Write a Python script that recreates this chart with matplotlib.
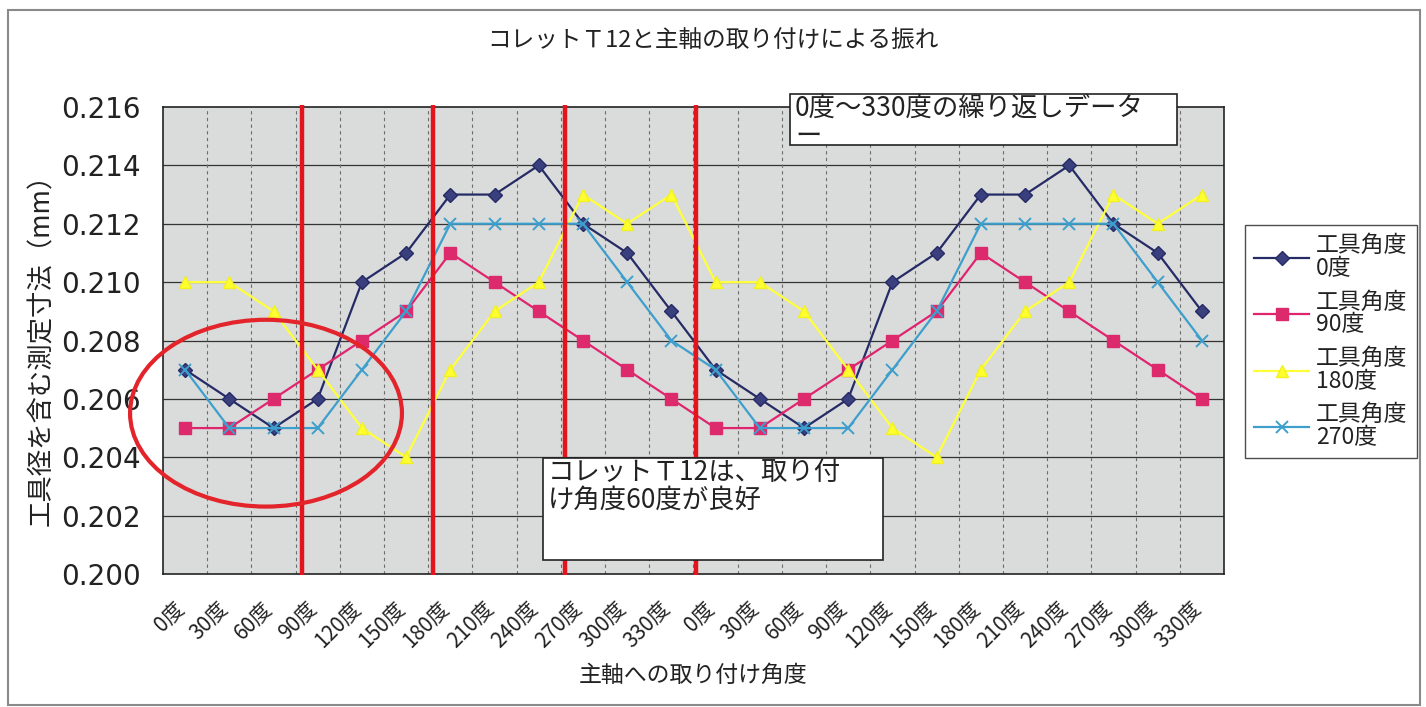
import matplotlib
matplotlib.use("Agg")
import matplotlib.pyplot as plt
import matplotlib.transforms as mtransforms
from matplotlib.patches import Rectangle, Ellipse

plt.rcParams['font.family'] = ['Noto Sans CJK JP', 'DejaVu Sans']

# ---------------- data ----------------
angles = ["0度", "30度", "60度", "90度", "120度", "150度", "180度",
          "210度", "240度", "270度", "300度", "330度"]
categories = angles + angles

tool_0 = [0.207, 0.206, 0.205, 0.206, 0.210, 0.211, 0.213, 0.213, 0.214, 0.212, 0.211, 0.209,
          0.207, 0.206, 0.205, 0.206, 0.210, 0.211, 0.213, 0.213, 0.214, 0.212, 0.211, 0.209]
tool_90 = [0.205, 0.205, 0.206, 0.207, 0.208, 0.209, 0.211, 0.210, 0.209, 0.208, 0.207, 0.206,
           0.205, 0.205, 0.206, 0.207, 0.208, 0.209, 0.211, 0.210, 0.209, 0.208, 0.207, 0.206]
tool_180 = [0.210, 0.210, 0.209, 0.207, 0.205, 0.204, 0.207, 0.209, 0.210, 0.213, 0.212, 0.213,
            0.210, 0.210, 0.209, 0.207, 0.205, 0.204, 0.207, 0.209, 0.210, 0.213, 0.212, 0.213]
tool_270 = [0.207, 0.205, 0.205, 0.205, 0.207, 0.209, 0.212, 0.212, 0.212, 0.212, 0.210, 0.208,
            0.207, 0.205, 0.205, 0.205, 0.207, 0.209, 0.212, 0.212, 0.212, 0.212, 0.210, 0.208]
series_labels = ["工具角度\n0度", "工具角度\n90度", "工具角度\n180度", "工具角度\n270度"]
y_ticks = [0.200, 0.202, 0.204, 0.206, 0.208, 0.210, 0.212, 0.214, 0.216]

title = "コレットＴ12と主軸の取り付けによる振れ"
xlabel = "主軸への取り付け角度"
ylabel = "工具径を含む測定寸法（mm）"
note1 = "0度～330度の繰り返しデータ\nー"
note2 = "コレットＴ12は、取り付\nけ角度60度が良好"

# ---------------- figure ----------------
W, H = 1426, 707
fig = plt.figure(figsize=(W / 100, H / 100), dpi=100)
fig.patch.set_facecolor('white')

def fx(px):
    return px / W

def fy(py):
    return 1 - py / H

# outer frame
fig.add_artist(Rectangle((fx(8), fy(705)), fx(1420) - fx(8), fy(10) - fy(705),
                         transform=fig.transFigure, fill=False, edgecolor='#8a8a8a', lw=1.5))

ax = fig.add_axes([fx(163), fy(574), fx(1224) - fx(163), fy(107) - fy(574)])
ax.set_facecolor('#d9dcdb')
x = list(range(len(categories)))

styles = [
    dict(color='#262b66', marker='D', ms=7, mfc='#3a3f7e', mec='#262b66'),
    dict(color='#e0246e', marker='s', ms=8, mfc='#dc2a6c', mec='#dc2a6c'),
    dict(color='#ffff3a', marker='^', ms=9, mfc='#ffff30', mec='#f2f020'),
    dict(color='#3e9fcc', marker='x', ms=9, mew=1.4, mfc='#3e9fcc', mec='#3e9fcc'),
]
for vals, lab, st in zip([tool_0, tool_90, tool_180, tool_270], series_labels, styles):
    ax.plot(x, vals, lw=1.6, label=lab, zorder=3, **st)

ax.set_xlim(-0.5, len(categories) - 0.5)
ax.set_ylim(0.200, 0.216)
ax.set_yticks(y_ticks)
ax.set_yticklabels([f"{v:.3f}" for v in y_ticks], family='DejaVu Sans', fontsize=20, color='#222')
ax.set_xticks(x)
ax.set_xticklabels(categories, rotation=45, ha='right', va='top', rotation_mode='anchor',
                   fontsize=15, color='#222')
ax.tick_params(axis='y', length=0, pad=16)
ax.tick_params(axis='x', length=0, pad=17)
shift = mtransforms.ScaledTranslation(-12 / 100, 0, fig.dpi_scale_trans)
for lbl in ax.get_xticklabels():
    lbl.set_transform(lbl.get_transform() + shift)

# grid
for v in y_ticks[1:-1]:
    ax.axhline(v, color='#333333', lw=0.9, zorder=1)
for b in range(1, len(categories)):
    ax.axvline(b - 0.5, color='#6d6d6d', lw=0.8, ls=(0, (3, 3)), zorder=1)
for s in ax.spines.values():
    s.set_color('#222')
    s.set_linewidth(1.2)

# red vertical lines and ellipse
for xp in [2.64, 5.61, 8.6, 11.56]:
    ax.plot([xp, xp], [0.19995, 0.21608], color='#e4141c', lw=3.2, zorder=4, clip_on=False,
            solid_capstyle='butt')
ax.add_patch(Ellipse((1.83, 0.20551), 6.15, 0.0064, fill=False, edgecolor='#e3242b', lw=3,
                     zorder=5, clip_on=False))

# text boxes
def textbox(x0, y0, x1, y1, text, fs):
    fig.add_artist(Rectangle((fx(x0), fy(y1)), fx(x1) - fx(x0), fy(y0) - fy(y1),
                             transform=fig.transFigure, facecolor='white', edgecolor='#222',
                             lw=1.2, zorder=10))
    return fig.text(fx(x0 + 5), fy(y0 + 1), text, ha='left', va='top', fontsize=fs,
                    color='#222', zorder=11, linespacing=1.05)

textbox(790, 94, 1177, 145, note1, 19)
textbox(543, 458, 883, 560, note2, 19)

# titles
fig.text(fx(713), fy(40), title, ha='center', va='center', fontsize=17, color='#222')
fig.text(fx(42), fy(343), ylabel, ha='center', va='center', rotation=90, fontsize=19, color='#222')
fig.text(fx(693), fy(675), xlabel, ha='center', va='center', fontsize=16.5, color='#222')

# legend
leg = fig.legend(loc='upper left', bbox_to_anchor=(fx(1245), fy(225)),
                 bbox_transform=fig.transFigure, fontsize=16.5, frameon=True, fancybox=False,
                 edgecolor='#222', handlelength=2.4, labelspacing=0.45, borderpad=0.4,
                 handletextpad=0.3, borderaxespad=0)
leg.get_frame().set_linewidth(1.0)
for t in leg.get_texts():
    t.set_linespacing(1.0)
    t.set_color('#222')

fig.savefig('out.png', dpi=100)
